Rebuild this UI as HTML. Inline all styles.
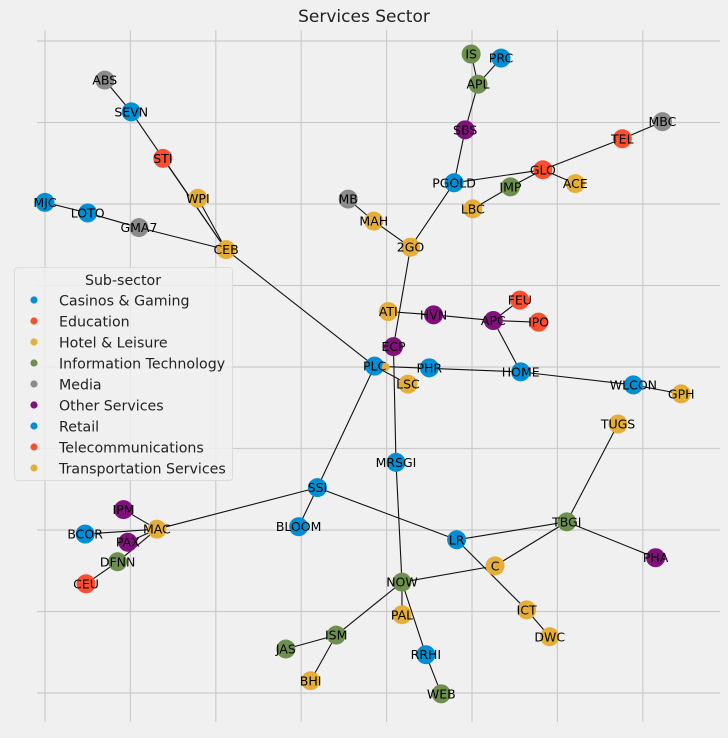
<!DOCTYPE html>
<html><head><meta charset="utf-8"><style>
body{margin:0;background:#f0f0f0;}
svg{display:block;font-family:"DejaVu Sans","Liberation Sans",sans-serif;}
</style></head><body>
<svg id="chart" width="728" height="738" xmlns="http://www.w3.org/2000/svg">
<rect width="728" height="738" fill="#f0f0f0"/>
<g id="grid"></g>
<g id="edges"></g>
<g id="nodes"></g>
<text x="364" y="22" text-anchor="middle" font-size="17" fill="#222">Services Sector</text>
<g id="legend"></g>
</svg>
<script>
// layout coordinates in grid units (x: 0..8, y: 0..8)
const nodeNames = ["ABS","SEVN","STI","WPI","MJC","LOTO","GMA7","CEB","MB","MAH","2GO","IS","PRC","APL","SBS","PGOLD","GLO","TEL","MBC","IMP","ACE","LBC","ATI","HVN","APC","FEU","IPO","ECP","PLC","PHR","LSC","HOME","WLCON","GPH","TUGS","MRSGI","SSI","BLOOM","IPM","MAC","BCOR","PAX","DFNN","CEU","LR","TBGI","PHA","C","NOW","PAL","ICT","DWC","ISM","JAS","BHI","RRHI","WEB","PLCX"];
const nodeX = [0.70,1.01,1.38,1.79,0.00,0.50,1.10,2.12,3.55,3.85,4.28,4.99,5.34,5.07,4.92,4.79,5.83,6.76,7.23,5.45,6.21,5.01,4.02,4.55,5.25,5.56,5.78,4.08,3.86,4.50,4.25,5.57,6.89,7.45,6.71,4.11,3.19,2.97,0.92,1.31,0.47,0.97,0.85,0.48,4.82,6.11,7.15,5.27,4.18,4.18,5.64,5.91,3.41,2.82,3.11,4.46,4.64,3.99];
const nodeY = [0.48,0.87,1.44,1.93,1.98,2.11,2.29,2.56,1.94,2.21,2.53,0.16,0.21,0.53,1.09,1.74,1.58,1.20,0.99,1.79,1.75,2.06,3.32,3.36,3.43,3.18,3.45,3.75,3.99,4.01,4.21,4.06,4.22,4.33,4.70,5.17,5.48,5.96,5.75,5.99,6.05,6.15,6.39,6.66,6.12,5.90,6.34,6.44,6.64,7.04,6.98,7.31,7.29,7.46,7.85,7.53,8.01,4.00];
const nodeGroup = [4,0,1,2,0,0,4,2,4,2,2,3,0,3,5,0,1,1,4,3,2,2,2,5,5,1,1,5,0,0,2,0,0,2,2,0,0,0,5,2,0,5,3,1,0,3,5,2,3,2,2,2,3,3,2,0,3,2];
const edgeFrom = ["ABS","SEVN","STI","WPI","MJC","LOTO","GMA7","CEB","MB","MAH","2GO","PGOLD","SBS","APL","APL","PGOLD","GLO","TEL","GLO","IMP","GLO","2GO","ATI","HVN","APC","APC","APC","PLC","HOME","WLCON","PLC","ECP","MRSGI","PLC","SSI","SSI","SSI","MAC","MAC","MAC","MAC","DFNN","LR","LR","ICT","TBGI","TBGI","TBGI","C","NOW","NOW","NOW","RRHI","ISM","ISM"];
const edgeTo = ["SEVN","CEB","CEB","CEB","LOTO","GMA7","CEB","PLC","MAH","2GO","PGOLD","SBS","APL","IS","PRC","GLO","TEL","MBC","IMP","LBC","ACE","ECP","HVN","APC","FEU","IPO","HOME","HOME","WLCON","GPH","LSC","MRSGI","NOW","SSI","BLOOM","MAC","LR","IPM","BCOR","PAX","DFNN","CEU","TBGI","ICT","DWC","C","TUGS","PHA","NOW","PAL","ISM","RRHI","WEB","JAS","BHI"];
const legendLabels = ["Casinos & Gaming","Education","Hotel & Leisure","Information Technology","Media","Other Services","Retail","Telecommunications","Transportation Services"];
const legendGroup = [0,1,2,3,4,5,0,1,2];
const groupColors = ["#008fd5","#fc4f30","#e5ae38","#6d904f","#8b8b8b","#810f7c"];
const xTicks = [0,1,2,3,4,5,6,7];
const yTicks = [0,1,2,3,4,5,6,7,8];

const NS="http://www.w3.org/2000/svg";
const X0=45, XU=85.4, Y0=41, YU=81.5;
const sx=v=>X0+v*XU, sy=v=>Y0+v*YU;
function mk(tag,attrs,parent){const e=document.createElementNS(NS,tag);for(const k in attrs)e.setAttribute(k,attrs[k]);parent.appendChild(e);return e;}
const grid=document.getElementById('grid');
xTicks.forEach(t=>{const l=mk('line',{x1:sx(t),x2:sx(t),y1:30,y2:722,stroke:'#cbcbcb','stroke-width':1.2},grid);

});
yTicks.forEach(t=>{const l=mk('line',{x1:37,x2:720,y1:sy(t),y2:sy(t),stroke:'#cbcbcb','stroke-width':1.2},grid);

});
const idx={};nodeNames.forEach((n,i)=>idx[n]=i);
const eg=document.getElementById('edges');
edgeFrom.forEach((f,i)=>{const a=idx[f],b=idx[edgeTo[i]];
const l=mk('line',{x1:sx(nodeX[a]),y1:sy(nodeY[a]),x2:sx(nodeX[b]),y2:sy(nodeY[b]),stroke:'#111','stroke-width':1.1},eg);

});
const ng=document.getElementById('nodes');
nodeNames.forEach((n,i)=>{
 const small=n==="PLCX";
 const c=mk('circle',{cx:sx(nodeX[i]),cy:sy(nodeY[i]),r:small?4:9.5,fill:groupColors[nodeGroup[i]]},ng);
 
 
});
nodeNames.forEach((n,i)=>{
 if(n==="PLCX")return;
 const t=mk('text',{x:sx(nodeX[i]),y:sy(nodeY[i])+4.5,'text-anchor':'middle','font-size':12.5,fill:'#000'},ng);
 t.textContent=n;
 
 
});
const lg=document.getElementById('legend');
const box=mk('rect',{x:14.5,y:267.5,width:218,height:213,rx:3,fill:'#f0f0f0','fill-opacity':0.85,stroke:'#dcdcdc'},lg);


const lt=mk('text',{x:123,y:285,'text-anchor':'middle','font-size':14.2,fill:'#222'},lg);
lt.textContent='Sub-sector';


legendLabels.forEach((s,i)=>{
 const y=300+i*21;
 const d=mk('circle',{cx:34,cy:y,r:3.6,fill:groupColors[legendGroup[i]]},lg);
 
 
 const t=mk('text',{x:59,y:y+5.5,'font-size':14.2,fill:'#222'},lg);
 t.textContent=s;
 
 
});
</script>
</body></html>
